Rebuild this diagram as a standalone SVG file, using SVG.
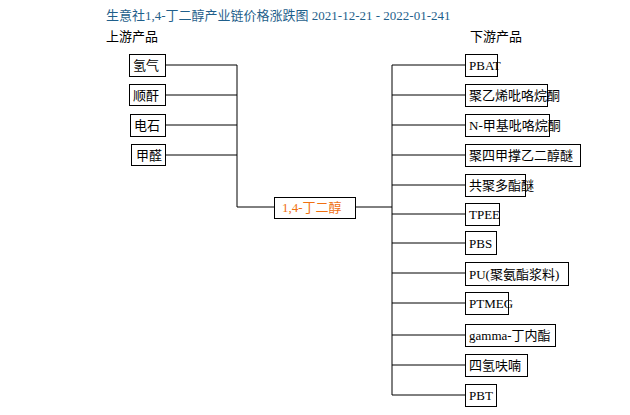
<svg xmlns="http://www.w3.org/2000/svg" width="630" height="415" viewBox="0 0 630 415">
<style>
text{font-family:"Liberation Serif","Noto Sans CJK SC",serif;font-size:13px;fill:#000}
.b{fill:#fff;stroke:#000;stroke-width:1}
.c{fill:none;stroke:#000;stroke-width:1}
</style>
<rect width="630" height="415" fill="#fff"/>
<text x="106" y="20" style="fill:#1f5f8b">生意社1,4-丁二醇产业链价格涨跌图 2021-12-21 - 2022-01-241</text>
<text x="106" y="41">上游产品</text>
<text x="470" y="41">下游产品</text>
<g id="connectors">
<path class="c" d="M165 65H237M165 95H237M165 125H237M165 155H237M237 65V207H274M355 207H392M392 65V395"/>
<path class="c" d="M392 65H465M392 95H465M392 125H465M392 155H465M392 185H465M392 214H465M392 243H465M392 273H465M392 303H465M392 335H465M392 365H465M392 395H465"/>
</g>
<g id="n1"><rect class="b" x="129.5" y="54.5" width="36" height="22"/><text x="133" y="70">氢气</text></g>
<g id="n2"><rect class="b" x="129.5" y="84.5" width="36" height="21"/><text x="133" y="100">顺酐</text></g>
<g id="n3"><rect class="b" x="130.5" y="114.5" width="35" height="22"/><text x="134" y="130">电石</text></g>
<g id="n4"><rect class="b" x="131.5" y="144.5" width="34" height="21"/><text x="136" y="160">甲醛</text></g>
<g id="center"><rect class="b" x="274.5" y="197.5" width="81" height="21"/><text x="282" y="212" style="fill:#f07010">1,4-丁二醇</text></g>
<g id="d1"><rect class="b" x="465.5" y="54.5" width="32" height="22"/><text x="469" y="70">PBAT</text></g>
<g id="d2"><rect class="b" x="465.5" y="84.5" width="82" height="22"/><text x="469" y="100">聚乙烯吡咯烷酮</text></g>
<g id="d3"><rect class="b" x="465.5" y="114.5" width="84" height="22"/><text x="469" y="130">N-甲基吡咯烷酮</text></g>
<g id="d4"><rect class="b" x="465.5" y="144.5" width="115" height="22"/><text x="469" y="160">聚四甲撑乙二醇醚</text></g>
<g id="d5"><rect class="b" x="465.5" y="174.5" width="60" height="22"/><text x="469" y="190">共聚多酯醚</text></g>
<g id="d6"><rect class="b" x="465.5" y="203.5" width="34" height="22"/><text x="469" y="219">TPEE</text></g>
<g id="d7"><rect class="b" x="465.5" y="231.5" width="31" height="23"/><text x="469" y="248">PBS</text></g>
<g id="d8"><rect class="b" x="465.5" y="262.5" width="103" height="23"/><text x="469" y="279">PU(聚氨酯浆料)</text></g>
<g id="d9"><rect class="b" x="465.5" y="292.5" width="43" height="22"/><text x="469" y="308">PTMEG</text></g>
<g id="d10"><rect class="b" x="465.5" y="324.5" width="90" height="22"/><text x="469" y="340">gamma-丁内酯</text></g>
<g id="d11"><rect class="b" x="465.5" y="354.5" width="62" height="22"/><text x="469" y="370">四氢呋喃</text></g>
<g id="d12"><rect class="b" x="465.5" y="384.5" width="31" height="22"/><text x="469" y="400">PBT</text></g>
</svg>
